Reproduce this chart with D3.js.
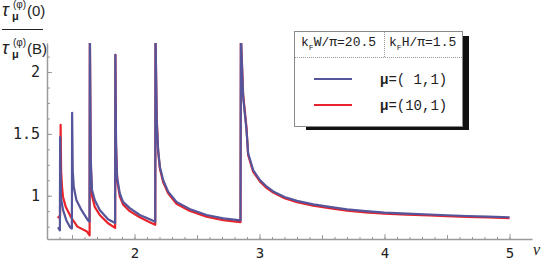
<!DOCTYPE html>
<html>
<head>
<meta charset="utf-8">
<script src="https://cdn.jsdelivr.net/npm/d3@7"></script>
<style>
  body { margin: 0; background: #fff; }
  svg { display: block; }
</style>
</head>
<body>
<script>
// [nu, tau(0)/tau(B)]
const mu11 = [
  [1.388,0.745],[1.403,0.72],[1.405,1.475],[1.412,0.98],[1.428,0.885],[1.455,0.80],[1.485,0.745],
  [1.499,0.735],[1.501,1.67],[1.506,1.20],[1.514,1.073],[1.535,0.966],[1.575,0.885],[1.628,0.80],
  [1.640,0.79],[1.643,2.30],[1.650,1.30],[1.660,1.046],[1.682,0.966],[1.722,0.885],[1.788,0.81],
  [1.845,0.78],[1.847,2.14],[1.852,1.45],[1.860,1.154],[1.882,1.02],[1.908,0.95],[1.962,0.90],
  [2.042,0.844],[2.122,0.81],[2.166,0.79],[2.168,2.30],[2.178,1.60],[2.189,1.37],[2.203,1.235],
  [2.229,1.127],[2.269,1.033],[2.336,0.95],[2.44,0.893],[2.576,0.844],[2.71,0.817],[2.848,0.80],
  [2.851,2.30],[2.869,1.80],[2.896,1.53],[2.909,1.343],[2.949,1.208],[3.003,1.127],[3.05,1.08],
  [3.11,1.035],[3.2,0.99],[3.3,0.958],[3.43,0.93],[3.56,0.91],[3.70,0.89],[3.85,0.875],[4.0,0.863],
  [4.18,0.855],[4.36,0.848],[4.5,0.842],[4.66,0.836],[4.83,0.831],[5.0,0.826]
];
const mu101 = [
  [1.386,0.82],[1.405,0.84],[1.409,1.573],[1.413,1.20],[1.420,1.073],[1.428,0.99],[1.450,0.91],
  [1.490,0.83],[1.543,0.75],[1.620,0.71],[1.641,0.68],[1.643,2.30],[1.650,1.25],[1.660,1.0],
  [1.682,0.91],[1.722,0.844],[1.788,0.777],[1.845,0.74],[1.847,2.14],[1.852,1.40],[1.862,1.12],
  [1.882,0.995],[1.908,0.93],[1.962,0.875],[2.042,0.825],[2.122,0.785],[2.166,0.765],[2.168,2.30],
  [2.178,1.62],[2.189,1.36],[2.203,1.22],[2.229,1.11],[2.269,1.02],[2.336,0.935],[2.44,0.878],
  [2.576,0.83],[2.71,0.803],[2.848,0.787],[2.851,2.30],[2.869,1.82],[2.896,1.55],[2.909,1.33],
  [2.949,1.195],[3.003,1.115],[3.05,1.068],[3.11,1.025],[3.2,0.98],[3.3,0.948],[3.43,0.92],
  [3.56,0.90],[3.70,0.88],[3.85,0.866],[4.0,0.855],[4.18,0.847],[4.36,0.84],[4.5,0.834],
  [4.66,0.829],[4.83,0.824],[5.0,0.819]
];
const seriesLabels = ["μ=( 1,1)", "μ=(10,1)"];
const headerLabels = [["k", "F", "W/π=20.5"], ["k", "F", "H/π=1.5"]];
const xMajor = [2, 3, 4, 5];
const xHalf = [1.5, 2.5, 3.5, 4.5];
const xMinor = d3.range(14, 51).map(d => d / 10);
const yMajor = [1, 1.5, 2];
const yMinor = d3.range(6, 18).map(d => d * 0.125);

const W = 545, H = 262;
const BLUE = "#55559b", RED = "#e8232b", AXIS = "#9a9a9a";

const svg = d3.select("body").append("svg").attr("width", W).attr("height", H);

const x = d3.scaleLinear().domain([1.3, 5.18]).range([47, 532]);
const y = d3.scaleLinear().domain([0.65, 2.235]).range([239, 43]);

let styleAxis = (g, size = 15) => {
    g.select(".domain").attr("stroke", AXIS).attr("stroke-width", 1.5);
    g.selectAll(".tick line").attr("stroke", AXIS).attr("stroke-width", 1);
    g.selectAll(".tick text")
        .attr("fill", "#222")
        .attr("font-family", "'DejaVu Sans Mono', monospace")
        .attr("font-size", size);
};

// x axis: ticks point up into the plot
svg.append("g").attr("transform", "translate(0,239)")
    .call(d3.axisBottom(x).tickValues(xMinor).tickSizeInner(-2).tickSizeOuter(0).tickFormat(""))
    .call(styleAxis);
svg.append("g").attr("transform", "translate(0,239)")
    .call(d3.axisBottom(x).tickValues(xHalf).tickSizeInner(-4).tickSizeOuter(0).tickFormat(""))
    .call(g => g.select(".domain").remove())
    .call(styleAxis);
svg.append("g").attr("transform", "translate(0,239)")
    .call(d3.axisBottom(x).tickValues(xMajor).tickSizeInner(-5).tickSizeOuter(0).tickPadding(9).tickFormat(d3.format("d")))
    .call(g => g.select(".domain").remove())
    .call(g => styleAxis(g, 14));

// y axis: ticks point right
svg.append("g").attr("transform", "translate(47,0)")
    .call(d3.axisLeft(y).tickValues(yMinor).tickSizeInner(-3).tickSizeOuter(0).tickFormat(""))
    .call(styleAxis);
svg.append("g").attr("transform", "translate(47,0)")
    .call(d3.axisLeft(y).tickValues(yMajor).tickSizeInner(-5).tickSizeOuter(0).tickPadding(7).tickFormat(d => String(d)))
    .call(g => g.select(".domain").remove())
    .call(styleAxis);

svg.append("text").attr("x", 533).attr("y", 255)
    .attr("font-family", "'Liberation Serif', serif").attr("font-style", "italic")
    .attr("font-size", 16).attr("fill", "#222").text("ν");

// curves
svg.append("clipPath").attr("id", "plot")
    .append("rect").attr("x", 47).attr("y", 43).attr("width", 485).attr("height", 196);

const line = d3.line().x(d => x(d[0])).y(d => y(d[1]));

const curves = svg.append("g").attr("clip-path", "url(#plot)");
[[mu101, RED], [mu11, BLUE]].forEach(([data, color]) => {
    curves.append("path")
        .attr("d", line(data))
        .attr("fill", "none")
        .attr("stroke", color)
        .attr("stroke-width", 2.2)
        .attr("stroke-linejoin", "round");
});

// y title as a fraction
const title = svg.append("g").attr("font-family", "'Liberation Sans', Arial, sans-serif").attr("fill", "#222");
let addTau = (g, base, arg) => {
    g.append("text").attr("x", 2).attr("y", base).attr("font-size", 18).attr("font-style", "italic").text("τ");
    g.append("text").attr("x", 13).attr("y", base - 8).attr("font-size", 10).text("(φ)");
    g.append("text").attr("x", 12).attr("y", base + 4).attr("font-size", 11).attr("font-weight", "bold").text("μ");
    g.append("text").attr("x", 27).attr("y", base).attr("font-size", 15).text(arg);
};
addTau(title, 16, "(0)");
title.append("line").attr("x1", 2).attr("x2", 43).attr("y1", 29.5).attr("y2", 29.5)
    .attr("stroke", "#222").attr("stroke-width", 1.2);
addTau(title, 54, "(B)");

// legend
const legend = svg.append("g");
legend.append("rect").attr("x", 306).attr("y", 36).attr("width", 163).attr("height", 94).attr("fill", "#111");
legend.append("rect").attr("x", 294.5).attr("y", 31.5).attr("width", 168).attr("height", 95)
    .attr("fill", "#fff").attr("stroke", "#8a8a8a").attr("stroke-width", 1);
legend.append("line").attr("x1", 295).attr("x2", 462).attr("y1", 57.5).attr("y2", 57.5)
    .attr("stroke", "#999").attr("stroke-dasharray", "1,1");
legend.append("line").attr("x1", 384.5).attr("x2", 384.5).attr("y1", 32).attr("y2", 57)
    .attr("stroke", "#999").attr("stroke-dasharray", "1,1");

const headerX = [301, 389];
headerLabels.forEach((h, i) => {
    const t = legend.append("text").attr("x", headerX[i]).attr("y", 46)
        .attr("font-family", "'Liberation Mono', monospace").attr("font-size", 13).attr("fill", "#222");
    t.append("tspan").text(h[0]);
    t.append("tspan").attr("font-size", 8).attr("dy", 4).text(h[1]);
    t.append("tspan").attr("dy", -4).text(h[2]);
});

const legendY = [79, 105];
[BLUE, RED].forEach((c, i) => {
    legend.append("line").attr("x1", 314).attr("x2", 352).attr("y1", legendY[i]).attr("y2", legendY[i])
        .attr("stroke", c).attr("stroke-width", 2);
    const t = legend.append("text").attr("x", 380).attr("y", legendY[i] + 5)
        .attr("font-family", "'Liberation Mono', monospace").attr("font-size", 14).attr("fill", "#222");
    t.append("tspan").attr("font-weight", "bold").text(seriesLabels[i].slice(0, 1));
    t.append("tspan").text(seriesLabels[i].slice(1));
});
</script>
</body>
</html>
